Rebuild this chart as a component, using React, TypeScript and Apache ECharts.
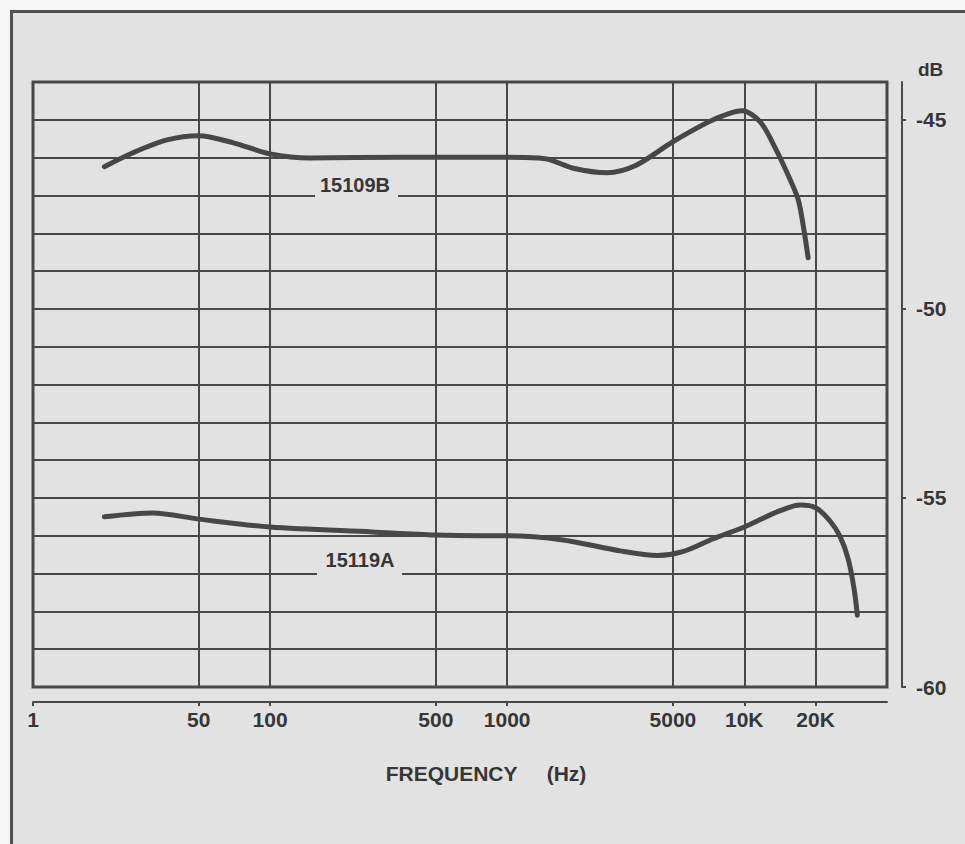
import { useEffect, useRef } from 'react';
import * as echarts from 'echarts';

// ---- data ----
const freqTicks = [10, 50, 100, 500, 1000, 5000, 10000, 20000];
const freqTickLabels = ['1', '50', '100', '500', '1000', '5000', '10K', '20K'];
const freqMin = 10;
const freqMax = 40000;
const dbMin = -60;
const dbMax = -44;
const dbGridStep = 1;
const dbLabels = [-60, -55, -50, -45];

const seriesNames = ['15109B', '15119A'];

const topFreq = [20, 26.4, 36.8, 50, 70, 100, 147, 354, 1000, 1450, 1900, 2640, 3500, 5000, 7400, 9800, 11700, 13500, 15300, 16900, 17900, 18600];
const topDb = [-46.24, -45.87, -45.53, -45.42, -45.61, -45.9, -46.01, -45.99, -45.99, -46.03, -46.28, -46.4, -46.2, -45.58, -45.0, -44.76, -45.06, -45.74, -46.46, -47.12, -47.96, -48.65];

const bottomFreq = [20, 32, 50, 100, 270, 500, 770, 1000, 1720, 3000, 4300, 5500, 7400, 10000, 14000, 17200, 20000, 23000, 25400, 27500, 29100, 30000];
const bottomDb = [-55.5, -55.4, -55.56, -55.77, -55.9, -55.98, -56.0, -56.0, -56.11, -56.4, -56.52, -56.42, -56.08, -55.77, -55.35, -55.19, -55.26, -55.61, -56.03, -56.64, -57.43, -58.1];

// ---- styles ----
const FONT = '"Liberation Sans", Arial, Helvetica, sans-serif';
const INK = '#484848';
const TEXT = '#363636';
const CURVE = '#474747';
const BG = '#e2e2e2';
const PAPER = '#f7f7f7';

const lx = (f: number) => Math.log10(f);

export default function App() {
  const ref = useRef<HTMLDivElement>(null);

  useEffect(() => {
    const chart = echarts.init(ref.current!, null, { renderer: 'svg' });
    const tickVals = freqTicks.map(lx);
    const labelFor = (v: number) => {
      let best = 0;
      let bd = Infinity;
      tickVals.forEach((t, i) => {
        const d = Math.abs(t - v);
        if (d < bd) { bd = d; best = i; }
      });
      return bd < 1e-6 ? freqTickLabels[best] : '';
    };
    const boldText = { fontFamily: FONT, fontWeight: 'bold', color: TEXT, fontSize: 21 };

    const dbGrid: number[] = [];
    for (let v = dbMin + dbGridStep; v < dbMax; v += dbGridStep) dbGrid.push(v);

    chart.setOption({
      animation: false,
      backgroundColor: BG,
      textStyle: { fontFamily: FONT },
      grid: {
        left: 33, right: 78, top: 82, bottom: 157,
        show: true, borderColor: INK, borderWidth: 3, backgroundColor: 'transparent',
      },
      xAxis: {
        type: 'value',
        min: lx(freqMin),
        max: lx(freqMax),
        offset: 15,
        axisLine: { show: true, lineStyle: { color: INK, width: 2 } },
        axisTick: { show: true, customValues: tickVals, length: 4, lineStyle: { color: INK, width: 2 } },
        axisLabel: { customValues: tickVals, formatter: (v: number) => labelFor(v), margin: 7, ...boldText },
        splitLine: { show: false },
        name: 'FREQUENCY\u00a0\u00a0\u00a0\u00a0\u00a0(Hz)',
        nameLocation: 'middle',
        nameGap: 61,
        nameTextStyle: { ...boldText, fontSize: 21, padding: [0, 0, 0, 52] },
      },
      yAxis: {
        type: 'value',
        position: 'right',
        min: dbMin,
        max: dbMax,
        interval: dbGridStep,
        offset: 15,
        axisLine: { show: true, lineStyle: { color: INK, width: 2 } },
        axisTick: { show: true, customValues: dbLabels, length: 4, lineStyle: { color: INK, width: 2 } },
        axisLabel: {
          customValues: dbLabels,
          margin: 14,
          formatter: (v: number) => String(v),
          ...boldText,
        },
        splitLine: { show: false },
        name: 'dB',
        nameLocation: 'end',
        nameGap: 3,
        nameTextStyle: { ...boldText, fontSize: 19, align: 'left', padding: [0, 0, 0, 16] },
      },
      series: [
        {
          type: 'line',
          name: 'grid',
          data: [],
          z: 1,
          silent: true,
          markLine: {
            silent: true,
            symbol: ['none', 'none'],
            label: { show: false },
            lineStyle: { color: INK, width: 2, type: 'solid' },
            data: [
              ...freqTicks.slice(1).map((f) => ({ xAxis: lx(f) })),
              ...dbGrid.map((v) => ({ yAxis: v })),
            ],
          },
        },
        {
          type: 'line',
          name: seriesNames[0],
          z: 5,
          smooth: 0.3,
          showSymbol: false,
          symbol: 'none',
          lineStyle: { color: CURVE, width: 5, cap: 'round' },
          data: topFreq.map((f, i) => [lx(f), topDb[i]]),
        },
        {
          type: 'line',
          name: seriesNames[1],
          z: 5,
          smooth: 0.3,
          showSymbol: false,
          symbol: 'none',
          lineStyle: { color: CURVE, width: 5, cap: 'round' },
          data: bottomFreq.map((f, i) => [lx(f), bottomDb[i]]),
        },
      ],
      graphic: [
        { type: 'rect', z: 100, shape: { x: 0, y: 0, width: 965, height: 10 }, style: { fill: PAPER } },
        { type: 'rect', z: 100, shape: { x: 0, y: 0, width: 10, height: 844 }, style: { fill: PAPER } },
        { type: 'line', z: 100, shape: { x1: 10, y1: 11.5, x2: 965, y2: 11.5 }, style: { stroke: '#505050', lineWidth: 3 } },
        { type: 'line', z: 100, shape: { x1: 11.5, y1: 10, x2: 11.5, y2: 844 }, style: { stroke: '#505050', lineWidth: 3 } },
        { type: 'rect', z: 100, shape: { x: 315, y: 192, width: 83, height: 7 }, style: { fill: BG } },
        { type: 'rect', z: 100, shape: { x: 317, y: 570, width: 85, height: 7 }, style: { fill: BG } },
        {
          type: 'text', z: 101, x: 355, y: 185,
          style: { text: seriesNames[0], fill: TEXT, font: `bold 20px ${FONT}`, textAlign: 'center', textVerticalAlign: 'middle' },
        },
        {
          type: 'text', z: 101, x: 360, y: 560,
          style: { text: seriesNames[1], fill: TEXT, font: `bold 20px ${FONT}`, textAlign: 'center', textVerticalAlign: 'middle' },
        },
      ],
    });

    return () => chart.dispose();
  }, []);

  return <div ref={ref} style={{ position: 'fixed', left: 0, top: 0, width: 965, height: 844 }} />;
}
